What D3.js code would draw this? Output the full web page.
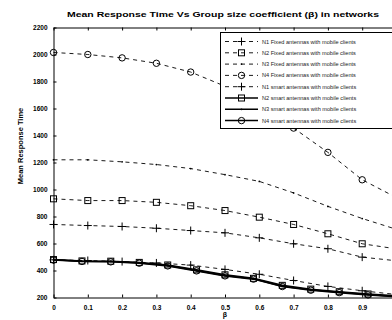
<!DOCTYPE html>
<html><head><meta charset="utf-8">
<script src="https://cdn.jsdelivr.net/npm/d3@7"></script>
<style>
html,body{margin:0;padding:0;background:#fff;overflow:hidden}
svg{display:block}
text{font-family:"Liberation Sans",Arial,sans-serif}
</style></head>
<body>
<script>
const titleText = "Mean Response Time Vs Group size coefficient (\u03B2) in networks";
const xLabel = "\u03B2";
const yLabel = "Mean Response Time";
const xTicks = [0, 0.1, 0.2, 0.3, 0.4, 0.5, 0.6, 0.7, 0.8, 0.9];
const yTicks = [200, 400, 600, 800, 1000, 1200, 1400, 1600, 1800, 2000, 2200];
const beta = [0, 0.1, 0.2, 0.3, 0.4, 0.5, 0.6, 0.7, 0.8, 0.9, 1];
const beta12 = [0, 0.083, 0.167, 0.25, 0.333, 0.417, 0.5, 0.583, 0.667, 0.75, 0.833, 0.917, 1];
const seriesNames = [
  "N1 Fixed antennas with mobile clients",
  "N2 Fixed antennas with mobile clients",
  "N3 Fixed antennas with mobile clients",
  "N4 Fixed antennas with mobile clients",
  "N1 smart antennas with mobile clients",
  "N2 smart antennas with mobile clients",
  "N3 smart antennas with mobile clients",
  "N4 smart antennas with mobile clients"
];
const n1Fixed = [741, 733, 726, 713, 696, 679, 642, 598, 561, 499, 472];
const n2Fixed = [931, 918, 918, 905, 880, 844, 795, 741, 672, 598, 560];
const n3Fixed = [1220, 1220, 1205, 1185, 1155, 1110, 1060, 975, 875, 785, 705];
const n4Fixed = [2015, 2000, 1975, 1935, 1870, 1765, 1625, 1455, 1275, 1072, 940];
const n1Smart = [479, 474, 466, 456, 440, 408, 372, 326, 282, 250, 222];
const n2Smart = [481, 471, 469, 460, 441, 405, 368, 342, 290, 262, 243, 226, 212];
const n3Smart = [479, 469, 467, 457, 437, 400, 363, 339, 284, 257, 239, 222, 207];
const n4Smart = [477, 467, 464, 454, 434, 397, 360, 336, 281, 254, 236, 219, 205];

const W = 392, H = 320;
const svg = d3.select("body").append("svg").attr("width", W).attr("height", H);
const x = d3.scaleLinear().domain([0, 1]).range([53.5, 396.5]);
const y = d3.scaleLinear().domain([200, 2200]).range([297.5, 27.5]);

const series = [
  {xs: beta, ys: n1Fixed, dash: "4,4", w: 0.9, m: "plus"},
  {xs: beta, ys: n2Fixed, dash: "4,4", w: 0.9, m: "square"},
  {xs: beta, ys: n3Fixed, dash: "4,4", w: 0.9, m: "dot"},
  {xs: beta, ys: n4Fixed, dash: "4,4", w: 0.9, m: "circle"},
  {xs: beta, ys: n1Smart, dash: "4,4", w: 0.9, m: "plus"},
  {xs: beta12, ys: n2Smart, dash: null, w: 1.5, m: "square"},
  {xs: beta12, ys: n3Smart, dash: null, w: 1.5, m: "dot"},
  {xs: beta12, ys: n4Smart, dash: null, w: 1.5, m: "circle"}
];

function marker(g, type, cx, cy) {
  if (type === "plus") {
    g.append("path").attr("d", `M${cx-4},${cy}H${cx+4}M${cx},${cy-4}V${cy+4}`)
      .attr("stroke", "#000").attr("stroke-width", 1).attr("fill", "none");
  } else if (type === "square") {
    g.append("rect").attr("x", cx-3).attr("y", cy-3).attr("width", 6).attr("height", 6)
      .attr("stroke", "#000").attr("stroke-width", 1).attr("fill", "none");
  } else if (type === "circle") {
    g.append("circle").attr("cx", cx).attr("cy", cy).attr("r", 3.2)
      .attr("stroke", "#000").attr("stroke-width", 1).attr("fill", "none");
  } else {
    g.append("circle").attr("cx", cx).attr("cy", cy).attr("r", 0.9).attr("fill", "#000");
  }
}

// axes
const fmt = d => d === 0 ? "0" : d3.format("")(d);
const gx = svg.append("g").attr("transform", `translate(0,${y(200)})`)
  .call(d3.axisBottom(x).tickValues(xTicks).tickSizeInner(-3).tickSizeOuter(0).tickPadding(8).tickFormat(fmt));
const gxt = svg.append("g").attr("transform", `translate(0,${y(2200)})`)
  .call(d3.axisTop(x).tickValues(xTicks).tickSizeInner(-3).tickSizeOuter(0).tickFormat(""));
const gy = svg.append("g").attr("transform", `translate(${x(0)},0)`)
  .call(d3.axisLeft(y).tickValues(yTicks).tickSizeInner(-3).tickSizeOuter(0).tickPadding(6).tickFormat(d3.format("")));
[gx, gxt, gy].forEach(g => {
  g.selectAll("path.domain").attr("stroke", "#000").attr("stroke-width", 1);
  g.selectAll("line").attr("stroke", "#000").attr("stroke-width", 1);
  g.selectAll("text").attr("fill", "#000").style("font-size", "6.5px").style("font-weight", "bold")
    .style("font-family", "'Liberation Sans',Arial,sans-serif");
});

// lines
const plot = svg.append("g");
series.forEach(s => {
  const pts = s.xs.map((xv, i) => [x(xv), y(s.ys[i])]);
  plot.append("path").attr("d", d3.line()(pts)).attr("fill", "none")
    .attr("stroke", "#000").attr("stroke-width", s.w)
    .attr("stroke-dasharray", s.dash);
  pts.forEach(p => marker(plot, s.m, p[0], p[1]));
});

// legend
const lg = svg.append("g");
const lx = 220, ly = 32.5, rowH = 11.3;
lg.append("rect").attr("x", lx + 0.5).attr("y", ly).attr("width", 180).attr("height", 96)
  .attr("fill", "#fff").attr("stroke", "#000").attr("stroke-width", 1);
series.forEach((s, i) => {
  const ry = ly + 9 + i * rowH;
  lg.append("path").attr("d", `M${lx+5},${ry}H${lx+38}`).attr("stroke", "#000")
    .attr("stroke-width", s.w).attr("stroke-dasharray", s.dash);
  marker(lg, s.m, lx + 21.5, ry);
  lg.append("text").attr("x", lx + 42).attr("y", ry + 2).text(seriesNames[i])
    .style("font-size", "5.6px").attr("fill", "#222");
});

// title and labels
svg.append("text").attr("x", 223).attr("y", 17).attr("text-anchor", "middle")
  .attr("textLength", 312).attr("lengthAdjust", "spacingAndGlyphs")
  .style("font-size", "8px").style("font-weight", "bold").text(titleText);
svg.append("text").attr("transform", `translate(23,146) rotate(-90)`).attr("text-anchor", "middle")
  .style("font-size", "7.5px").style("font-weight", "bold").text(yLabel);
svg.append("text").attr("x", 225).attr("y", 317).attr("text-anchor", "middle")
  .style("font-size", "7px").style("font-weight", "bold").text(xLabel);
</script>
</body></html>
